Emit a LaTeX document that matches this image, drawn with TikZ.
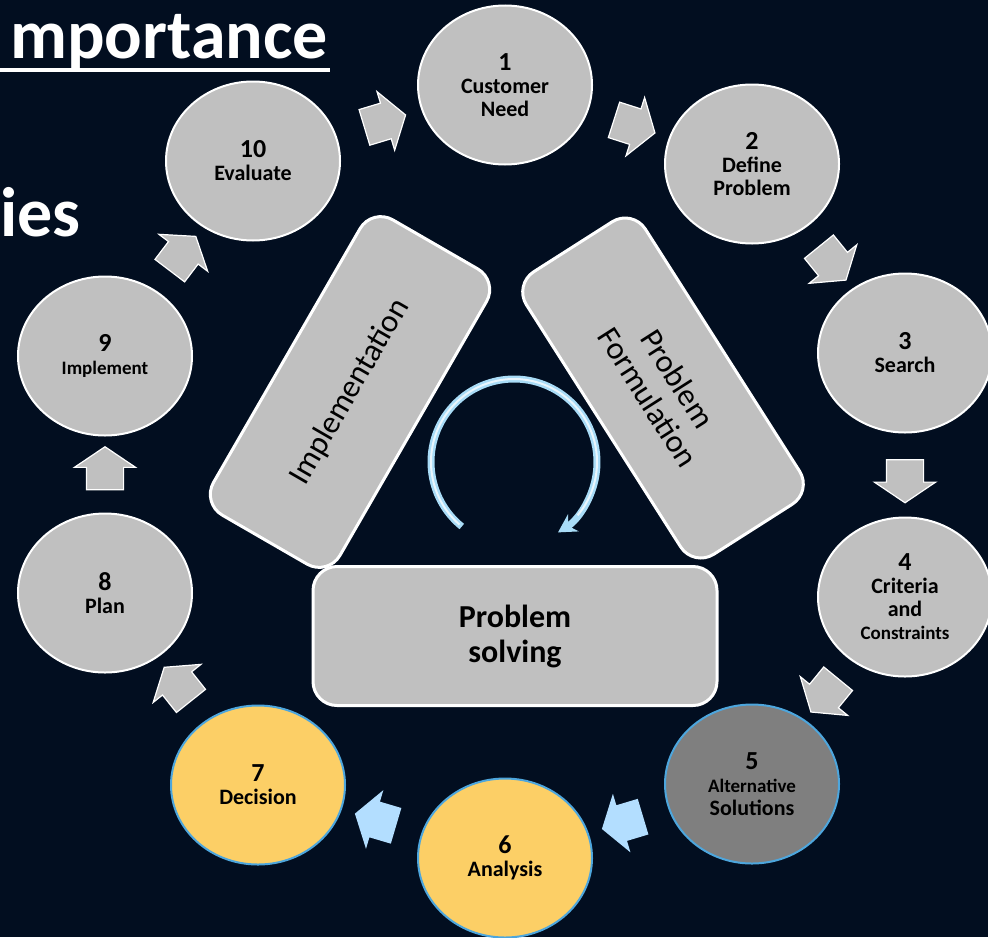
\documentclass[tikz,border=0pt]{standalone}
\usepackage{fontspec}
\setmainfont{Carlito}
\usetikzlibrary{shapes.geometric,shapes.arrows,calc,arrows.meta}

\definecolor{navy}{HTML}{020E20}
\definecolor{stagegray}{HTML}{C0C0C0}
\definecolor{altgray}{HTML}{7F7F7F}
\definecolor{pickyellow}{HTML}{FCCF66}
\definecolor{edgeblue}{HTML}{4DA6DD}
\definecolor{arrowblue}{HTML}{B3DEFF}
\definecolor{loopblue}{HTML}{A9DCF7}

\newcommand{\stepnum}[1]{{\fontsize{13}{13}\selectfont #1}}

\begin{document}
\begin{tikzpicture}[x=0.5pt, y=-0.5pt,
  stage/.style={ellipse, draw=white, line width=1pt, fill=stagegray, text=black,
    minimum width=87pt, minimum height=79.5pt, inner sep=0pt, align=center,
    font=\bfseries\fontsize{11}{11.5}\selectfont},
  picked/.style={stage, draw=edgeblue, fill=pickyellow},
  blockarrow/.style={single arrow, fill=stagegray, draw=white, line width=0.6pt,
    minimum height=21.5pt, inner xsep=0pt, inner ysep=9pt, single arrow head extend=6pt,
    single arrow tip angle=112},
  bluearrow/.style={blockarrow, fill=arrowblue, draw=none},
  phase/.style={rectangle, rounded corners=12pt, fill=stagegray, draw=white,
    line width=1.5pt, align=center, inner sep=0pt, text=black,
    font=\fontsize{16}{17.5}\selectfont}
]
\useasboundingbox (0,0) rectangle (988,937);
\fill [navy] (0,0) rectangle (988,937);

% slide titles, cut at the left edge
\node [anchor=base west, inner sep=0pt, text=white, font=\bfseries\fontsize{35}{35}\selectfont] (title) at (10,58) {mportance};
\draw [white, line width=2pt] (0,70) -- (330,70);
\node [anchor=base west, inner sep=0pt, text=white, font=\bfseries\fontsize{35}{35}\selectfont] (subtitle) at (0,236) {ies};

% the three phases
\node [phase, minimum width=202pt, minimum height=69.5pt, font=\bfseries\fontsize{16}{17.5}\selectfont] (solving) at (515,636) {Problem\\solving};
\node [phase, minimum width=170.5pt, minimum height=73pt, rotate=60] (impl) at (350,392) {Implementation};
\node [phase, minimum width=167.5pt, minimum height=70.5pt, rotate=-57.5] (form) at (663,388) {Problem\\Formulation};

% loop in the middle
\coordinate (loopc) at (514,462);
\draw [loopblue, line width=3.5pt, -{Stealth[length=9pt, width=10pt]}] ($(loopc)+(231:41.5pt)$) arc [start angle=231, end angle=-58, radius=41.5pt];
\draw [white!75!loopblue, line width=1pt] ($(loopc)+(229:41.5pt)$) arc [start angle=229, end angle=-40, radius=41.5pt];

% the ten steps
\node [stage] (c1) at (505,85) {\stepnum{1}\\Customer\\Need};
\node [stage] (c2) at (752,164) {\stepnum{2}\\Define\\Problem};
\node [stage] (c3) at (905,353) {\stepnum{3}\\Search};
\node [stage] (c4) at (905,597) {\stepnum{4}\\Criteria\\and\\{\fontsize{9.5}{11}\selectfont Constraints}};
\node [stage, draw=edgeblue, fill=altgray] (c5) at (752,784) {\stepnum{5}\\{\fontsize{9.5}{11}\selectfont Alternative}\\Solutions};
\node [picked] (c6) at (505,858) {\stepnum{6}\\Analysis};
\node [picked] (c7) at (258,785) {\stepnum{7}\\Decision};
\node [stage] (c8) at (105,593) {\stepnum{8}\\Plan};
\node [stage] (c9) at (105,356) {\stepnum{9}\\{\fontsize{9.5}{11}\selectfont Implement}};
\node [stage] (c10) at (253,161) {\stepnum{10}\\Evaluate};

% arrows between the steps
\foreach \a/\b in {c10/c1,c1/c2,c2/c3,c3/c4,c4/c5,c7/c8,c8/c9,c9/c10} {
    \path let \p1=($(\b)-(\a)$), \n1={atan2(\y1,\x1)} in
        node [blockarrow, rotate=\n1] (arr\a) at ($(\a)!0.5!(\b)$) {};
}
\foreach \a/\b in {c5/c6,c6/c7} {
    \path let \p1=($(\b)-(\a)$), \n1={atan2(\y1,\x1)} in
        node [bluearrow, rotate=\n1] (arr\a) at ($(\a)!0.5!(\b)$) {};
}
\end{tikzpicture}
\end{document}
